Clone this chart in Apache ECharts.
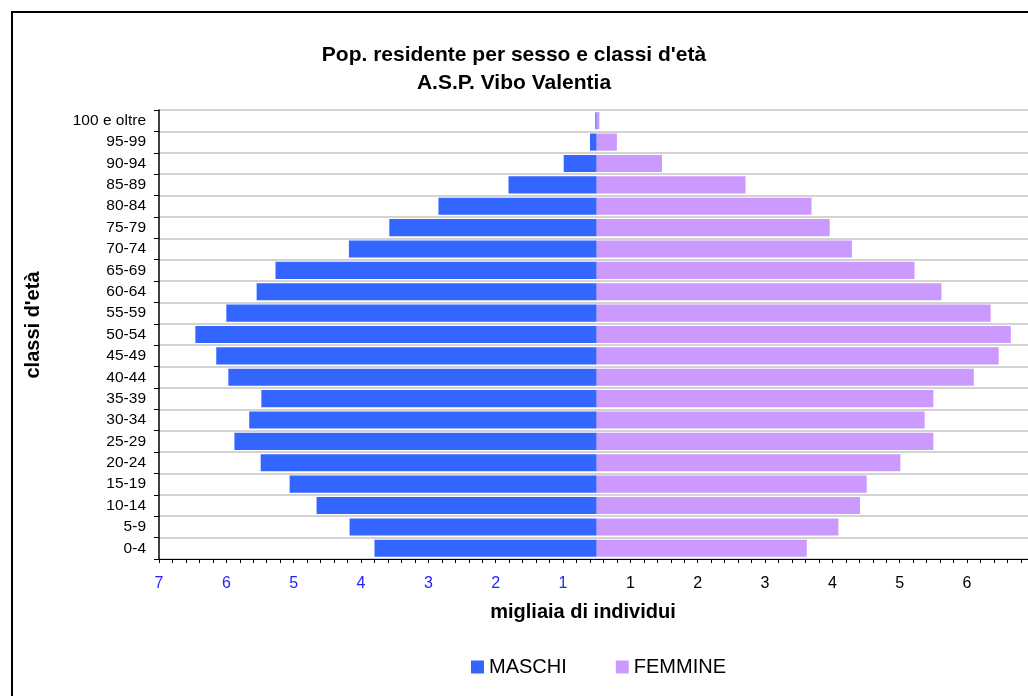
<!DOCTYPE html>
<html>
<head>
<meta charset="utf-8">
<script src="https://cdn.jsdelivr.net/npm/echarts@6/dist/echarts.min.js"></script>
<style>
  html, body { margin: 0; padding: 0; background: #fff; }
  #chart { width: 1028px; height: 696px; }
</style>
</head>
<body>
<div id="chart"></div>
<script>
// classi d'età, dal basso verso l'alto
const ageClasses = ['0-4', '5-9', '10-14', '15-19', '20-24', '25-29', '30-34', '35-39', '40-44', '45-49',
  '50-54', '55-59', '60-64', '65-69', '70-74', '75-79', '80-84', '85-89', '90-94', '95-99', '100 e oltre'];

// migliaia di individui
const maschi = [3.30, 3.67, 4.16, 4.56, 4.99, 5.38, 5.16, 4.98, 5.47, 5.65,
  5.96, 5.50, 5.05, 4.77, 3.68, 3.08, 2.35, 1.31, 0.49, 0.10, 0.02];
const femmine = [3.12, 3.59, 3.91, 4.01, 4.51, 5.00, 4.87, 5.00, 5.60, 5.97,
  6.15, 5.85, 5.12, 4.72, 3.79, 3.46, 3.19, 2.21, 0.97, 0.30, 0.04];

// etichette dell'asse orizzontale, da sinistra a destra
const tickLabels = ['7', '6', '5', '4', '3', '2', '1', '1', '2', '3', '4', '5', '6'];

const FONT = 'Liberation Sans, Arial, sans-serif';
const X_MIN = -6.5, X_MAX = 6.405;   // area del grafico: da 159px a 1028px

const chart = echarts.init(document.getElementById('chart'));

const option = {
  textStyle: { fontFamily: FONT },
  animation: false,
  title: {
    text: "Pop. residente per sesso e classi d'età\nA.S.P. Vibo Valentia",
    left: 'center',
    top: 41,
    padding: 0,
    textStyle: { fontSize: 21, fontWeight: 'bold', color: '#000', lineHeight: 28, fontFamily: FONT }
  },
  legend: {
    data: ['MASCHI', 'FEMMINE'],
    left: 471,
    top: 657,
    padding: 0,
    icon: 'rect',
    itemWidth: 13,
    itemHeight: 13,
    itemGap: 49,
    textStyle: { fontSize: 20, color: '#000', fontFamily: FONT }
  },
  grid: { left: 159, right: 0, top: 110, bottom: 137 },
  xAxis: [{
    type: 'value',
    min: X_MIN,
    max: X_MAX,
    show: false
  }, {
    // asse delle etichette, spostato di mezza unità rispetto ai dati
    type: 'value',
    min: 0,
    max: X_MAX - X_MIN,
    interval: 0.2,
    position: 'bottom',
    axisLine: { show: true, onZero: false, lineStyle: { color: '#000', width: 1 } },
    axisTick: { show: true, length: 4, lineStyle: { color: '#000' } },
    splitLine: { show: false },
    axisLabel: {
      margin: 17,
      fontSize: 16,
      fontFamily: FONT,
      interval: 0,
      showMaxLabel: false,
      formatter: function (v) {
        const r = Math.round(v);
        return Math.abs(v - r) < 1e-6 ? (tickLabels[r] || '') : '';
      },
      color: function (v) { return v < 6.5 ? '#1f1fff' : '#000'; }
    }
  }],
  yAxis: {
    type: 'category',
    data: ageClasses,
    boundaryGap: true,
    axisLine: { show: true, onZero: false, lineStyle: { color: '#000', width: 1.5 } },
    axisTick: { show: true, length: 5, lineStyle: { color: '#000' } },
    splitLine: { show: true, lineStyle: { color: '#c4c4c4', width: 1.5 } },
    axisLabel: { margin: 13, fontSize: 15.5, color: '#000', fontFamily: FONT }
  },
  graphic: [{
    type: 'rect',
    shape: { x: 12, y: 12, width: 1100, height: 1000 },
    style: { fill: 'none', stroke: '#000', lineWidth: 2 },
    silent: true
  }, {
    type: 'text',
    x: 33,
    y: 325,
    rotation: Math.PI / 2,
    style: {
      text: "classi d'età",
      fontSize: 20,
      fontWeight: 'bold',
      fontFamily: FONT,
      fill: '#000',
      textAlign: 'center',
      textVerticalAlign: 'middle'
    }
  }, {
    type: 'text',
    x: 583,
    y: 612,
    style: {
      text: 'migliaia di individui',
      fontSize: 20,
      fontWeight: 'bold',
      fontFamily: FONT,
      fill: '#000',
      textAlign: 'center',
      textVerticalAlign: 'middle'
    }
  }],
  series: [{
    name: 'MASCHI',
    type: 'bar',
    stack: 'pop',
    xAxisIndex: 0,
    barCategoryGap: '20%',
    itemStyle: { color: '#3366ff' },
    data: maschi.map(function (v) { return -v; })
  }, {
    name: 'FEMMINE',
    type: 'bar',
    stack: 'pop',
    xAxisIndex: 0,
    barCategoryGap: '20%',
    itemStyle: { color: '#cc99ff' },
    data: femmine
  }]
};

chart.setOption(option);
</script>
</body>
</html>
